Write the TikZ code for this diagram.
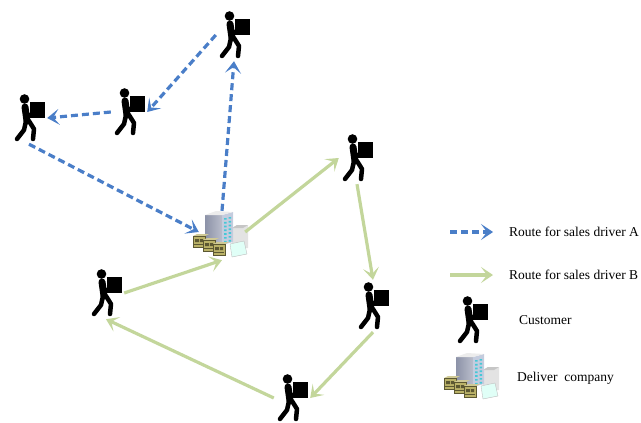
\documentclass[tikz,border=0pt]{standalone}
\usepackage{fontspec}
\setmainfont{Liberation Serif}
\usepackage{tikz}
\usetikzlibrary{arrows.meta,positioning}
\definecolor{routeblue}{RGB}{74,126,200}
\definecolor{routegreen}{RGB}{195,214,155}
\definecolor{truck}{RGB}{186,178,104}
\definecolor{truckdark}{RGB}{92,88,50}
\definecolor{wallleft}{RGB}{140,146,168}
\definecolor{wallright}{RGB}{196,204,222}
\definecolor{window}{RGB}{70,200,215}
\tikzstyle{routeA} = [->,>={Stealth[length=12pt,width=16pt,inset=6pt]}, draw=routeblue, line width=3.2pt, dash pattern=on 7pt off 4pt]
\tikzstyle{routeB} = [->,>={Stealth[length=12pt,width=16pt,inset=6pt]}, draw=routegreen, line width=3.2pt]
\tikzstyle{label} = [anchor=west, inner sep=0pt, font=\fontsize{13.5}{15}\selectfont]
% man carrying a parcel
\tikzstyle{customer} = [minimum width=36pt, minimum height=52pt, inner sep=0pt, path picture={
  \begin{scope}[shift={(path picture bounding box.center)}]
    \fill (-4.5,-19) circle (4.8);
    \draw[line width=7pt, line cap=round] (-4,-11) -- (-2,3);
    \fill (1,-16) rectangle (16,0);
    \draw[line width=3.5pt] (-3,-4) -- (3,-3);
    \draw[line width=4.5pt, line join=round, line cap=round] (-3,3) -- (-5,12) -- (-12,21);
    \draw[line width=4.5pt, line join=round, line cap=round] (0,3) -- (5,11) -- (4,21);
  \end{scope}}]
% office block with delivery vans
\tikzstyle{company} = [minimum width=60pt, minimum height=56pt, inner sep=0pt, path picture={
  \begin{scope}[shift={(path picture bounding box.center)}]
    \fill[gray!22] (10,-4) -- (15,-7) -- (26,-7) -- (26,16) -- (10,18) -- cycle;
    \fill[gray!45] (10,-4) -- (15,-7) -- (26,-7) -- (21,-4) -- cycle;
    \shade[left color=wallleft, right color=wallleft!60] (-17,-17) rectangle (0,13);
    \fill[wallright] (0,-17) -- (11,-20) -- (11,10) -- (0,13) -- cycle;
    \fill[gray!15] (-17,-17) -- (-6,-21) -- (11,-20) -- (0,-17) -- cycle;
    \foreach \r in {0,...,6}
      \fill[window] (2,-14+3.8*\r) rectangle (4.5,-12.3+3.8*\r)
                    (6.5,-15+3.8*\r) rectangle (9,-13.3+3.8*\r);
    \fill[green!25!cyan!12, draw=gray!50, line width=0.4pt] (8,12) -- (22,9) -- (25,22) -- (10,25) -- cycle;
    \foreach \i in {0,1,2} {
      \fill[truck!70] (-29+10*\i,4+4*\i) -- (-25+10*\i,2+4*\i) -- (-13+10*\i,2+4*\i) -- (-17+10*\i,4+4*\i) -- cycle;
      \fill[truck, draw=truckdark, line width=0.6pt] (-29+10*\i,4+4*\i) rectangle (-17+10*\i,15+4*\i);
      \fill[truckdark] (-27+10*\i,7+4*\i) rectangle (-23+10*\i,10+4*\i)
        (-22+10*\i,7+4*\i) rectangle (-19+10*\i,10+4*\i);
      \draw[truckdark, line width=0.5pt] (-28+10*\i,12.5+4*\i) -- (-18+10*\i,12.5+4*\i);
    }
  \end{scope}}]

\begin{document}
\begin{tikzpicture}[x=1pt, y=-1pt]
  \useasboundingbox (0,0) rectangle (641,423);
  % customers and the depot
  \node[customer] (c1) at (234,35) {};
  \node[customer] (c2) at (129,112) {};
  \node[customer] (c3) at (29,118) {};
  \node[customer] (c4) at (357,158) {};
  \node[customer] (c5) at (106,293) {};
  \node[customer] (c6) at (373,306) {};
  \node[customer] (c7) at (292,398) {};
  \node[company] (dep) at (222,232) {};
  % route of driver A
  \draw[routeA] ([yshift=-7pt]dep.north) -- (c1.south);
  \draw[routeA] (c1.west) -- (c2.east);
  \draw[routeA] (c2.west) -- (c3.east);
  \draw[routeA] (c3.south) -- ([xshift=7pt]dep.west);
  % route of driver B
  \draw[routeB] ([xshift=-7pt]dep.east) -- (c4.west);
  \draw[routeB] (c4.south) -- (c6.north);
  \draw[routeB] (c6.south) -- (c7.east);
  \draw[routeB] (c7.west) -- (c5.south);
  \draw[routeB] (c5.east) -- (dep.south);
  % legend
  \coordinate (la1) at (450,232);
  \coordinate (la2) at (493,232);
  \coordinate (lb1) at (450,275);
  \coordinate (lb2) at (493,275);
  \draw[routeA] (la1) -- (la2);
  \draw[routeB] (lb1) -- (lb2);
  \node[label, right=16pt of la2] (lta) {Route for sales driver A};
  \node[label, right=16pt of lb2] (ltb) {Route for sales driver B};
  \node[customer] (lc) at (472,320) {};
  \node[company] (ld) at (473,374) {};
  \node[label] (ltc) at (519,320) {Customer};
  \node[label] (ltd) at (517,378) {Deliver\ \ company};
\end{tikzpicture}
\end{document}
